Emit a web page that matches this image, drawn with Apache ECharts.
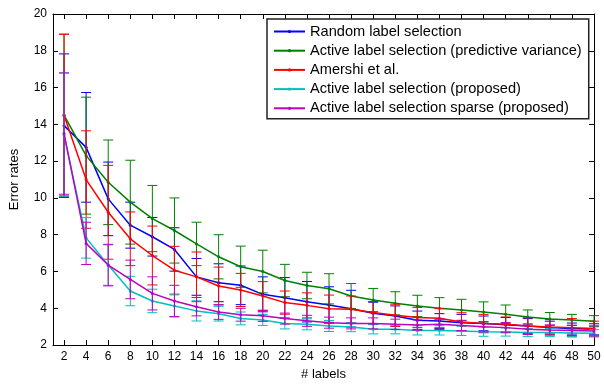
<!DOCTYPE html>
<html>
<head>
<meta charset="utf-8">
<script src="https://cdn.jsdelivr.net/npm/echarts@6/dist/echarts.min.js"></script>
<style>
  html, body { margin: 0; padding: 0; background: #fff; }
  #chart { width: 604px; height: 386px; }
</style>
</head>
<body>
<div id="chart"></div>
<script>
// x positions (# labels) and tick values
var labels = [2, 4, 6, 8, 10, 12, 14, 16, 18, 20, 22, 24, 26, 28, 30, 32, 34, 36, 38, 40, 42, 44, 46, 48, 50];
var yTicks = [2, 4, 6, 8, 10, 12, 14, 16, 18, 20];

var names = [
    'Random label selection',
    'Active label selection (predictive variance)',
    'Amershi et al.',
    'Active label selection (proposed)',
    'Active label selection sparse (proposed)'
];
var colors = ['#0000ff', '#008000', '#ff0000', '#00bfbf', '#bf00bf'];

// mean error rates
var randomMean = [13.93, 12.75, 9.95, 8.52, 7.89, 7.2, 5.71, 5.39, 5.25, 4.76, 4.57, 4.36, 4.18, 3.98, 3.73, 3.58, 3.35, 3.31, 3.22, 3.18, 3.1, 3.04, 2.95, 2.9, 2.86];
var varianceMean = [14.5, 12.3, 10.85, 9.77, 8.88, 8.23, 7.5, 6.8, 6.26, 6.0, 5.51, 5.24, 5.06, 4.67, 4.45, 4.27, 4.13, 4.0, 3.91, 3.8, 3.68, 3.53, 3.42, 3.37, 3.3];
var amershiMean = [14.5, 11.0, 9.22, 7.78, 6.87, 6.07, 5.71, 5.21, 5.0, 4.67, 4.31, 4.16, 3.98, 3.95, 3.77, 3.62, 3.5, 3.46, 3.26, 3.17, 3.13, 3.04, 2.99, 2.95, 2.9];
var proposedMean = [13.44, 7.83, 6.35, 4.94, 4.4, 4.13, 3.86, 3.71, 3.45, 3.37, 3.18, 3.13, 3.04, 2.98, 2.86, 2.86, 2.8, 2.8, 2.77, 2.73, 2.71, 2.68, 2.68, 2.66, 2.64];
var sparseMean = [13.5, 7.53, 6.35, 5.57, 4.81, 4.4, 4.09, 3.8, 3.65, 3.59, 3.44, 3.32, 3.22, 3.18, 3.18, 3.13, 3.09, 3.13, 3.07, 3.0, 2.95, 2.86, 2.82, 2.8, 2.77];

// half-length of the error bars
var randomErr = [3.9, 2.98, 2.0, 1.25, 1.05, 1.18, 1.0, 1.03, 1.05, 0.95, 1.1, 1.1, 0.99, 1.0, 0.6, 0.55, 0.5, 0.4, 0.45, 0.4, 0.4, 0.4, 0.35, 0.3, 0.3];
var varianceErr = [4.4, 3.18, 2.3, 2.28, 1.8, 1.77, 1.18, 1.2, 1.12, 1.16, 0.88, 0.72, 0.82, 0.68, 0.63, 0.63, 0.58, 0.58, 0.58, 0.55, 0.5, 0.38, 0.35, 0.3, 0.3];
var amershiErr = [4.4, 2.65, 2.55, 1.46, 1.6, 1.3, 1.35, 1.03, 0.9, 0.78, 0.63, 0.68, 0.74, 0.72, 0.6, 0.6, 0.55, 0.52, 0.5, 0.5, 0.4, 0.45, 0.4, 0.5, 0.4];
var proposedErr = [3.35, 1.1, 1.1, 0.8, 0.64, 0.6, 0.55, 0.4, 0.35, 0.3, 0.3, 0.3, 0.3, 0.25, 0.25, 0.25, 0.25, 0.25, 0.25, 0.25, 0.22, 0.22, 0.22, 0.2, 0.2];
var sparseErr = [3.3, 1.15, 1.13, 1.05, 0.9, 0.85, 0.5, 0.4, 0.35, 0.3, 0.3, 0.3, 0.3, 0.3, 0.3, 0.28, 0.28, 0.28, 0.28, 0.28, 0.28, 0.28, 0.28, 0.28, 0.28];

var means = [randomMean, varianceMean, amershiMean, proposedMean, sparseMean];
var errs = [randomErr, varianceErr, amershiErr, proposedErr, sparseErr];

var FONT = 'Liberation Sans, Arial, Helvetica, sans-serif';
var chart = echarts.init(document.getElementById('chart'));

// errorbar: vertical segment with caps
function makeErrorRender(color) {
    return function (params, api) {
        var x = api.value(0), m = api.value(1), e = api.value(2);
        var top = api.coord([x, m + e]);
        var bot = api.coord([x, m - e]);
        var w = 5;
        var style = { stroke: color, lineWidth: 1 };
        return {
            type: 'group',
            children: [
                { type: 'line', shape: { x1: top[0], y1: top[1], x2: bot[0], y2: bot[1] }, style: style },
                { type: 'line', shape: { x1: top[0] - w, y1: top[1], x2: top[0] + w, y2: top[1] }, style: style },
                { type: 'line', shape: { x1: bot[0] - w, y1: bot[1], x2: bot[0] + w, y2: bot[1] }, style: style }
            ]
        };
    };
}

var series = [];
for (var i = 0; i < names.length; i++) {
    var lineData = [], errData = [];
    for (var j = 0; j < labels.length; j++) {
        lineData.push([labels[j], means[i][j]]);
        errData.push([labels[j], means[i][j], errs[i][j]]);
    }
    series.push({
        name: 'err' + i,
        type: 'custom',
        renderItem: makeErrorRender(colors[i]),
        data: errData,
        encode: { x: 0, y: 1 },
        z: 2 + i * 2,
        silent: true
    });
    series.push({
        name: names[i],
        type: 'line',
        data: lineData,
        symbol: 'circle',
        symbolSize: 3,
        showSymbol: true,
        color: colors[i],
        lineStyle: { width: 1.5, color: colors[i] },
        itemStyle: { color: colors[i] },
        z: 3 + i * 2
    });
}

var axisLineStyle = { lineStyle: { color: '#000', width: 1 } };
var tickStyle = { show: true, inside: true, length: 5, lineStyle: { color: '#000' } };

var option = {
    animation: false,
    backgroundColor: '#fff',
    grid: { left: 50, right: 10, top: 14, bottom: 40 },
    legend: {
        data: names,
        orient: 'vertical',
        left: 267,
        top: 19,
        padding: [5, 7, 3, 6],
        itemWidth: 31,
        itemHeight: 4,
        itemGap: 4.2,
        backgroundColor: '#fff',
        borderColor: '#222',
        borderWidth: 1.5,
        borderRadius: 0,
        selectedMode: false,
        textStyle: { fontFamily: FONT, fontSize: 14.6, color: '#000', lineHeight: 14.5, padding: [0, 0, 0, 0] }
    },
    xAxis: [
        {
            type: 'value',
            min: 1,
            max: 50,
            position: 'bottom',
            name: '# labels',
            nameLocation: 'middle',
            nameGap: 19,
            nameTextStyle: { fontFamily: FONT, fontSize: 13, color: '#000' },
            axisLine: axisLineStyle,
            axisTick: Object.assign({ customValues: labels }, tickStyle),
            axisLabel: { customValues: labels, fontFamily: FONT, fontSize: 12, color: '#000', margin: 6 },
            splitLine: { show: false }
        },
        {
            type: 'value',
            min: 1,
            max: 50,
            position: 'top',
            axisLine: axisLineStyle,
            axisTick: Object.assign({ customValues: labels }, tickStyle),
            axisLabel: { show: false },
            splitLine: { show: false }
        }
    ],
    yAxis: [
        {
            type: 'value',
            min: 2,
            max: 20,
            interval: 2,
            position: 'left',
            name: 'Error rates',
            nameLocation: 'middle',
            nameGap: 32,
            nameTextStyle: { fontFamily: FONT, fontSize: 13, color: '#000' },
            axisLine: { show: true, lineStyle: { color: '#000', width: 1 } },
            axisTick: tickStyle,
            axisLabel: { fontFamily: FONT, fontSize: 12, color: '#000', margin: 6 },
            splitLine: { show: false }
        },
        {
            type: 'value',
            min: 2,
            max: 20,
            interval: 2,
            position: 'right',
            axisLine: { show: true, lineStyle: { color: '#000', width: 1 } },
            axisTick: tickStyle,
            axisLabel: { show: false },
            splitLine: { show: false }
        }
    ],
    series: series
};

chart.setOption(option);
</script>
</body>
</html>
